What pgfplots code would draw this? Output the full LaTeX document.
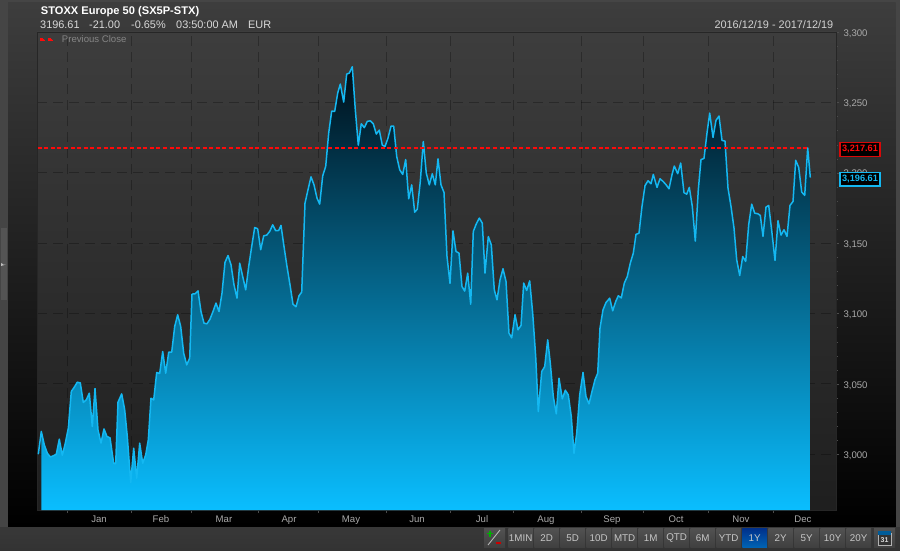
\documentclass[border=0pt]{standalone}
\usepackage{pgfplots}
\pgfplotsset{compat=1.18}
\usepackage{pgfplotstable}
\usepackage{fontspec}
\setmainfont{Liberation Sans}
\definecolor{cline}{RGB}{20,184,242}
\definecolor{ctop}{RGB}{0,14,24}
\definecolor{cbot}{RGB}{10,190,255}
\definecolor{cgrey}{RGB}{170,170,170}
\definecolor{cred}{RGB}{255,10,10}
\newcommand{\fs}[1]{\fontsize{#1}{#1}\selectfont}

% x is the pixel column of the session, y the index level
\pgfplotstableread{
x y
38.3 3000.0
41.3 3016.2
44.3 3006.7
47.3 3000.8
50.3 2998.1
53.3 2998.9
56.3 3000.0
59.3 3010.7
62.3 2999.3
65.3 3007.9
68.3 3018.5
71.3 3044.6
74.3 3047.7
77.3 3051.2
80.3 3050.7
83.3 3036.8
86.3 3038.7
89.3 3043.4
92.3 3019.7
95 3046.7
98 3017.3
101 3007.9
104 3018.0
107 3012.6
110 3011.7
113.7 2993.4
115.7 2993.4
118 3037.0
121.7 3042.9
124.7 3031.6
127.3 3012.6
130.7 2979.9
133.7 3004.3
136.7 2983.0
139.7 3007.9
142.7 2993.6
145.7 2999.6
148.3 3010.2
151 3039.8
153.7 3038.6
156.7 3058.1
159.7 3057.4
162.7 3073.0
165.7 3057.6
168.7 3072.5
171.7 3072.5
174.7 3090.8
177.7 3099.1
180.7 3090.8
183.7 3071.8
186.7 3063.5
189.7 3068.3
192 3113.8
195 3114.0
198 3116.1
201 3101.4
204 3093.1
207 3092.7
210 3096.0
213 3101.4
216 3107.4
219 3101.4
222 3114.5
225 3136.3
228 3141.2
231 3134.6
234 3120.4
237 3110.9
239.7 3135.8
242.7 3126.3
245.7 3116.8
248.7 3133.4
251.7 3147.6
254.7 3161.1
257.7 3160.2
260.7 3145.3
263.7 3155.2
266.7 3155.7
269.7 3158.3
272.7 3163.0
275.7 3158.8
278.7 3159.0
281 3162.6
284 3147.6
287 3133.4
290 3120.4
293 3106.6
296 3104.8
299 3112.6
301.7 3115.2
305 3178.4
308 3187.9
311 3197.1
314 3191.4
317 3182.0
319.7 3177.7
322.7 3197.8
325.7 3204.5
328.7 3228.2
331.7 3243.8
334.7 3243.6
337.7 3256.6
340.3 3263.0
343.7 3250.2
346.7 3270.1
349.3 3270.8
352.3 3275.3
355.3 3244.8
358.3 3219.6
361.3 3234.8
364.3 3232.0
367.3 3236.5
370.3 3236.9
373.3 3234.8
376.3 3227.5
379.3 3230.3
382.3 3219.6
385 3218.7
388 3224.6
391 3233.1
393.7 3233.1
396.7 3211.6
399.7 3202.1
402.7 3198.8
405.7 3209.4
408.7 3181.5
411.7 3191.4
414.7 3172.0
417.3 3174.1
420.3 3193.8
423.3 3222.2
426.3 3199.7
429.3 3191.4
432.3 3199.3
435.3 3191.4
438 3209.9
441 3191.4
444 3186.0
447 3140.5
450 3121.5
453 3158.7
456 3144.1
459 3142.9
462 3119.2
464.7 3115.9
467.7 3128.7
470.7 3106.6
473.3 3158.3
476.3 3163.7
479.3 3167.8
482.3 3164.2
485 3128.7
488.3 3154.7
491.3 3148.8
494.3 3116.8
497 3109.7
500 3123.9
503 3131.8
506 3122.8
509 3086.0
511.7 3082.7
515 3099.1
518 3088.4
521 3091.5
523.7 3121.6
526.7 3116.4
529.7 3123.2
532.7 3100.2
535.7 3069.4
538.3 3030.3
541.7 3058.8
544.7 3062.3
547.7 3081.3
550.3 3064.7
553.3 3041.0
556.3 3028.7
559 3054.0
562.3 3039.4
565.3 3045.5
568.3 3042.2
571.3 3026.8
574 3000.7
576.7 3014.9
579.7 3042.2
583 3058.1
586 3041.0
589 3035.8
592 3044.6
595 3052.9
597.7 3057.6
600 3089.6
603 3102.6
606 3107.8
609.7 3110.9
612.7 3101.9
615.7 3108.5
618.3 3112.6
621.3 3111.1
624.3 3121.6
627.3 3126.3
630.3 3135.8
633.3 3142.9
636 3156.2
639 3157.1
642 3176.1
645 3190.8
648 3194.3
651 3192.2
653.3 3198.8
657 3189.6
660 3195.7
663 3193.9
666 3191.5
669 3188.6
672 3198.6
674.3 3204.8
677.7 3199.3
680.7 3206.9
684 3185.8
686.7 3184.8
689.3 3189.6
692.3 3176.1
695.3 3151.4
698.3 3187.9
701 3209.3
704 3210.2
707 3228.2
709.7 3242.4
713 3225.1
716 3237.2
719 3240.3
722 3223.0
725 3222.5
728 3189.1
731 3176.1
734 3160.7
736.7 3138.2
739.7 3127.0
742.7 3140.5
745.7 3137.0
748.7 3163.1
751.7 3177.7
754.7 3171.3
757.7 3170.9
760.3 3169.7
763 3154.8
766 3175.6
768.7 3176.8
772 3157.1
775 3137.7
778 3165.9
781 3155.7
784 3159.5
787 3154.8
790 3176.8
793 3179.6
795.7 3208.8
798.7 3203.8
801.7 3186.3
804.7 3183.9
807.7 3217.61
810.3 3196.61
}\series

\begin{document}
\begin{tikzpicture}[x=1pt,y=1pt]
\useasboundingbox (0,0) rectangle (900,550);
% window chrome
\fill[black!73!white] (0,0) rectangle (900,550);
\shade[top color=black!76!white,bottom color=black] (8,23) rectangle (895.5,547);
\shade[top color=black!78!white,bottom color=black!80!white] (0,0) rectangle (900,23);
\fill[black!67!white] (1,322) rectangle (7,250);
\fill[black!25!white] (1,284) -- (6,285.5) -- (3,285.5) -- (3,286) -- (1,287) -- cycle;
\shade[top color=black!76!white,bottom color=black!88!white] (37,40) rectangle (836.5,518);

\begin{axis}[
    at={(37pt,40pt)}, anchor=south west,
    scale only axis, width=799.5pt, height=478pt,
    xmin=37, xmax=836.5, ymin=2960.4, ymax=3300,
    clip=true,
    axis line style={black!85!white},
    tick align=outside,
    major tick length=2.5pt, minor tick length=1.5pt,
    tick style={black!70!white},
    xtick pos=bottom, ytick pos=right,
    yticklabel pos=right,
    xtick={67,131,191,258,318,386,450,513,581,643,708,773},
    xticklabels={},
    extra x ticks={99,161,224,289,351,417,482,546,612,676,741,803},
    extra x tick labels={Jan,Feb,Mar,Apr,May,Jun,Jul,Aug,Sep,Oct,Nov,Dec},
    extra x tick style={grid=none,major tick length=0pt},
    ytick={3000,3050,...,3300},
    minor y tick num=4,
    xmajorgrids, ymajorgrids,
    major grid style={black,opacity=0.28,dash pattern=on 10pt off 6pt,line width=0.9pt},
    /pgf/number format/assume math mode=true,
    /pgf/number format/1000 sep={,},
    scaled y ticks=false,
    ticklabel style={font=\fs{9.6},text=cgrey},
    yticklabel style={xshift=1pt,yshift=-1.5pt},
    xticklabel style={yshift=-2pt},
    legend style={at={(axis cs:37.5,3300)},anchor=north west,draw=none,fill=none,
      font=\fs{9.6},text=black!48!white,inner sep=0pt,outer sep=0pt,yshift=-1.5pt,xshift=2pt},
    legend cell align=left,
    legend image code/.code={\fill[cred] (0pt,-0.7pt) rectangle (4pt,0.7pt) (8pt,-0.7pt) rectangle (12pt,0.7pt);},
]
\addplot[draw=none,forget plot,top color=ctop,bottom color=cbot,
    restrict x to domain=41:900] table[x=x,y=y] {\series} \closedcycle;
\addplot[cline,line width=1.5pt,forget plot,line join=round] table[x=x,y=y] {\series};
\addplot[cred,line width=1.4pt,dash pattern=on 4pt off 2.6pt]
    coordinates {(37.5,3217.61) (808,3217.61)};
\addlegendentry{\hspace{7pt}Previous Close}
\end{axis}

% header text
\node[anchor=base west,text=white,inner sep=0pt] at (40.7,535) {\fs{11.1}\bfseries STOXX Europe 50 (SX5P-STX)};
\foreach \xx/\tt in {40/3196.61,89/-21.00,131/-0.65\%,176/03:50:00 AM,248/EUR}
  \node[anchor=base west,text=black!15!white,inner sep=0pt] at (\xx,521) {\fs{10.9}\tt};
\node[anchor=base east,text=black!18!white,inner sep=0pt] at (833.5,521) {\fs{10.9}2016/12/19 - 2017/12/19};

% last value flags
\node[draw=cred!85!black,line width=1.3pt,fill=black,text=cred,inner sep=0pt,
  minimum width=40pt,minimum height=13.5pt] at (860,400.5) {\fs{9.2}\bfseries 3,217.61};
\node[draw=cline,line width=1.3pt,fill=black,text=cline,inner sep=0pt,
  minimum width=40pt,minimum height=13.5pt] at (860,370.7) {\fs{9.2}\bfseries 3,196.61};

% range buttons
\foreach \i/\lab in {0/1MIN,1/2D,2/5D,3/10D,4/MTD,5/1M,6/QTD,7/6M,8/YTD,9/1Y,10/2Y,11/5Y,12/10Y,13/20Y}{
  \pgfmathsetmacro{\bx}{508.3+26*\i}
  \ifnum\i=9
    \shade[top color=cyan!35!blue!55!black,bottom color=cyan!55!blue!70!black] (\bx,3) rectangle (\bx+24.7,21.5);
  \else
    \shade[top color=black!68!white,bottom color=black!75!white] (\bx,3) rectangle (\bx+24.7,21.5);
  \fi
  \node[text=black!22!white,inner sep=0pt] at (\bx+12.35,12) {\fs{9.8}\lab};
}
% chart type and calendar buttons
\shade[top color=black!68!white,bottom color=black!75!white] (484,3) rectangle (505,21.5);
\draw[black!25!white,line width=0.8pt] (488,5) -- (500,20);
\draw[green!70!black,line width=1.3pt] (487,16.5) -- (493,16.5) (490,13.5) -- (490,19.5);
\draw[red!80!black,line width=1.3pt] (496,7) -- (501,7);
\shade[top color=black!68!white,bottom color=black!75!white] (874,3) rectangle (895,21.5);
\draw[black!30!white,fill=black!80!white,line width=0.6pt] (878,5) rectangle (891,17);
\fill[blue!40!cyan!60!black] (878,15) rectangle (891,19);
\node[text=black!15!white,inner sep=0pt] at (884.5,10) {\fs{7}\bfseries 31};
\end{tikzpicture}
\end{document}
